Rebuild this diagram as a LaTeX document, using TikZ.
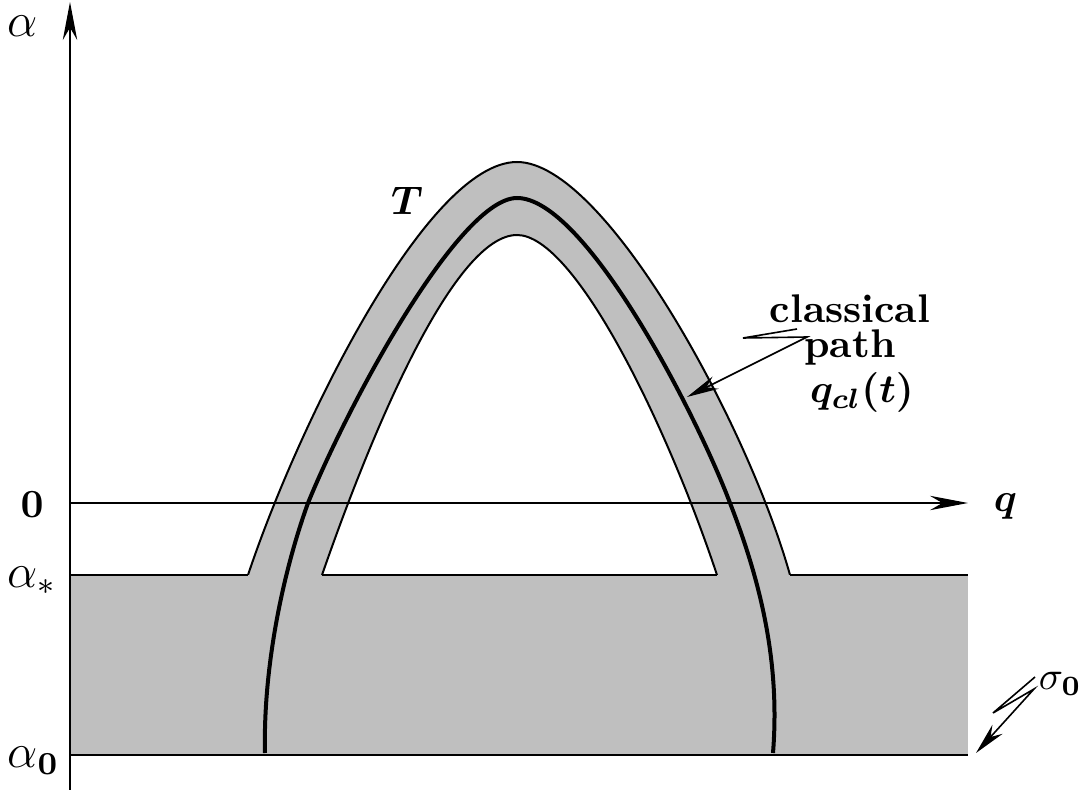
\documentclass[tikz,border=0pt]{standalone}
\usepackage{amsmath}
\usepackage{amssymb}
\usepackage{bm}
\usetikzlibrary{arrows.meta,positioning,calc}

\begin{document}
\begin{tikzpicture}[x=0.25pt, y=-0.25pt, >={Stealth[length=9.5pt,width=3.6pt]},
  every node/.style={font=\normalsize, inner sep=0pt},
  thinline/.style={line width=0.5pt},
  noteline/.style={line width=0.4pt, -{Stealth[length=8pt,width=3.4pt]}}]
\useasboundingbox (0,0) rectangle (1081,790);

% arch band and strip
\draw[thinline, fill=black!25] (248,575) .. controls (298,425) and (427,162) .. (517,162)
  .. controls (605,162) and (748,425) .. (790,575);
\draw[thinline, fill=white] (322,575) .. controls (374,425) and (455,235) .. (517,235)
  .. controls (575,235) and (667,425) .. (717,575);
\fill[black!25] (70,575) rectangle (968,755);
\draw[thinline] (70,575) -- (248,575) (322,575) -- (717,575) (790,575) -- (968,575);
\draw[thinline] (70,755) -- (968,755);

% classical path
\draw[line width=1pt] (265,753) .. controls (263,670) and (282,575) .. (308,503)
  .. controls (350,400) and (460,198) .. (517,198)
  .. controls (585,198) and (696,413) .. (730,503)
  .. controls (762,585) and (780,665) .. (773,753);

% axes
\coordinate (vbot) at (70,790);
\coordinate (vtop) at (70,2);
\coordinate (hleft) at (70,503);
\coordinate (hright) at (968,503);
\draw[thinline, ->] (vbot) -- (vtop);
\draw[thinline, ->] (hleft) -- (hright);

% labels
\node[anchor=base west, font=\large] (lalpha) at (7,37) {$\alpha$};
\node[anchor=base] (lzero) at (32,517) {$\mathbf{0}$};
\node[anchor=base west, font=\large] (lstar) at (7,587) {$\alpha_{*}$};
\node[anchor=base west, font=\large] (lnought) at (7,767) {$\alpha_{\mathbf{0}}$};
\node[anchor=base west] (lq) at (993,512) {$\bm{q}$};
\node[anchor=base] (lT) at (407,215) {$\bm{T}$};
\node[anchor=base] (cltop) at (850,323) {\textbf{classical}};
\node[anchor=base] (clmid) at (850,358) {\textbf{path}};
\node[anchor=base] (clbot) at (862,403) {$\bm{q_{cl}(t)}$};
\node[anchor=base west] (lsigma) at (1038,689) {$\sigma_{\mathbf{0}}$};

% pointers
\coordinate (clA) at (797,329);
\coordinate (clB) at (743,338);
\coordinate (clC) at (807,337);
\coordinate (clTip) at (687,397);
\draw[noteline] (clA) -- (clB) -- (clC) -- (clTip);
\coordinate (sgA) at (1035,677);
\coordinate (sgB) at (993,713);
\coordinate (sgC) at (1034,689);
\coordinate (sgTip) at (976,753);
\draw[noteline] (sgA) -- (sgB) -- (sgC) -- (sgTip);
\end{tikzpicture}
\end{document}
